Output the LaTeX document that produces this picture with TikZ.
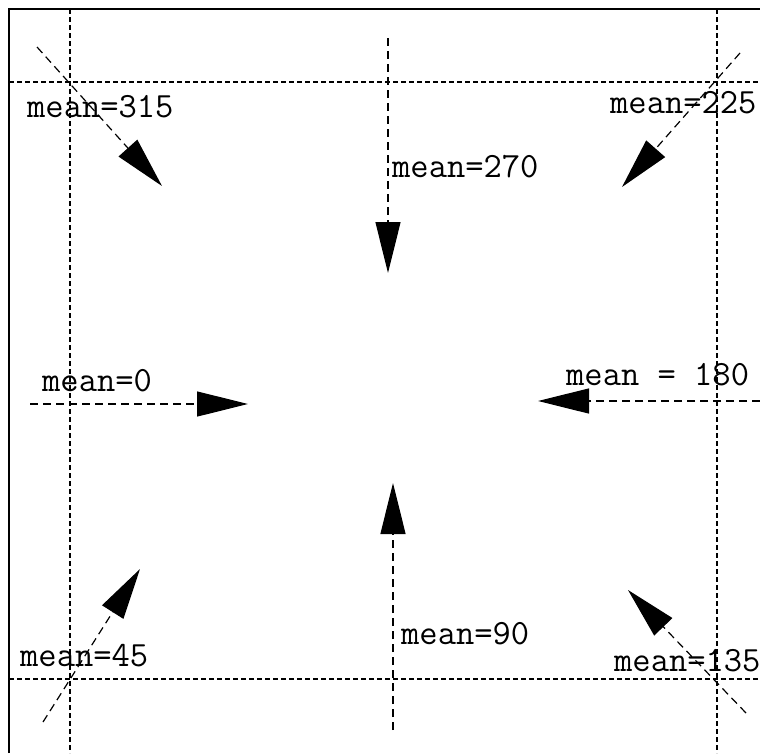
\documentclass[tikz,border=0pt]{standalone}
\usepackage{tikz}
\usetikzlibrary{positioning,arrows.meta}
\usepackage{xcolor}
\definecolor{ink}{HTML}{000000}
\tikzset{
  frameline/.style={draw=ink, line width=1.6pt},
  gridline/.style={draw=ink, line width=1.1pt, dash pattern=on 5pt off 3pt},
  meanarrow/.style={draw=ink, line width=1.2pt, dash pattern=on 8pt off 5pt,
                    -{Triangle[length=51pt,width=25pt]}},
  meanlabel/.style={inner sep=0pt, anchor=base west, text=ink,
                    font=\ttfamily\fontsize{35.5}{35.5}\selectfont}
}

\begin{document}
\begin{tikzpicture}[x=1pt,y=-1pt]
  \useasboundingbox (0,0) rectangle (760,753);
  \fill[white] (0,0) rectangle (760,753);
  % frame, cut by the page on the right and at the bottom
  \draw[frameline] (9,753) -- (9,9) -- (760,9);
  % dashed guide lines
  \foreach \gx in {70,717} \draw[gridline] (\gx,9) -- (\gx,753);
  \foreach \gy in {82,679} \draw[gridline] (9,\gy) -- (760,\gy);

  % start and tip of each arrow
  \coordinate (s0)   at (30,404);  \coordinate (t0)   at (248,404);
  \coordinate (s45)  at (43,722);  \coordinate (t45)  at (140,569);
  \coordinate (s90)  at (393,730); \coordinate (t90)  at (393,483);
  \coordinate (s135) at (746,713); \coordinate (t135) at (628,590);
  \coordinate (s180) at (760,401); \coordinate (t180) at (538,401);
  \coordinate (s225) at (740,53);  \coordinate (t225) at (622,187);
  \coordinate (s270) at (388,38);  \coordinate (t270) at (388,273);
  \coordinate (s315) at (37,47);   \coordinate (t315) at (162,186);

  \foreach \m in {0,45,90,135,180,225,270,315}
    \draw[meanarrow] (s\m) -- (t\m);

  % labels
  \node[meanlabel] (l0)   at (42,391)  {mean=0};
  \node[meanlabel] (l45)  at (20,666)  {mean=45};
  \node[meanlabel] (l90)  at (401,644) {mean=90};
  \node[meanlabel] (l135) at (614,671) {mean=135};
  \node[meanlabel] (l180) at (566,385) {mean = 180};
  \node[meanlabel] (l225) at (610,113) {mean=225};
  \node[meanlabel] (l270) at (392,177) {mean=270};
  \node[meanlabel] (l315) at (27,117)  {mean=315};
\end{tikzpicture}
\end{document}
